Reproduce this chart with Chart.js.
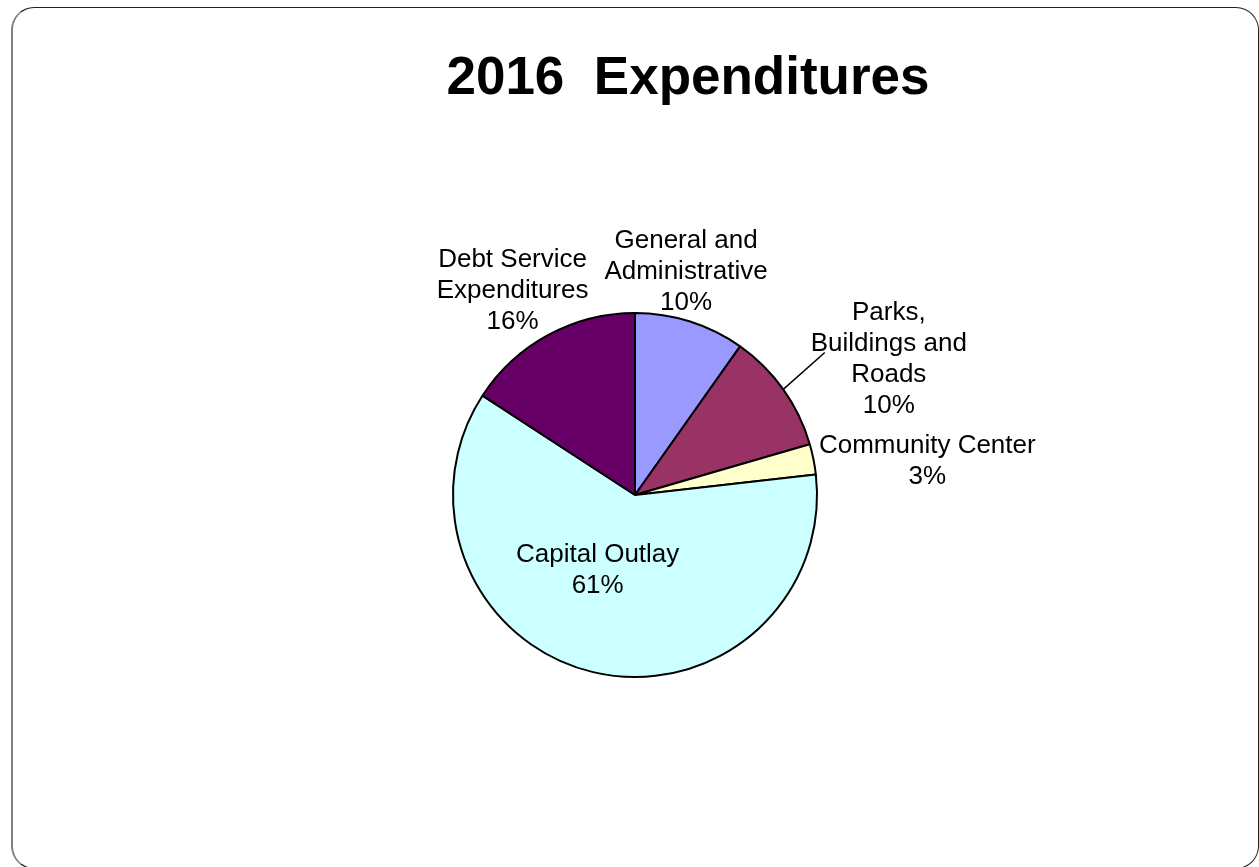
<!DOCTYPE html>
<html>
<head>
<meta charset="utf-8">
<title>2016 Expenditures</title>
<script src="https://cdn.jsdelivr.net/npm/chart.js@4/dist/chart.umd.min.js"></script>
<style>
  html, body { margin: 0; padding: 0; background: #fff; }
  #wrap { position: relative; width: 1259px; height: 867px; overflow: hidden; }
  #frame {
    position: absolute; left: 11px; top: 7px; width: 1245px; height: 860px;
    border: 1.5px solid #222; border-left: 2px solid #808080; border-radius: 23px;
  }
  #grafico-despesas { position: absolute; left: 0; top: 0; }
</style>
</head>
<body>
<div id="wrap">
  <div id="frame"></div>
  <canvas id="grafico-despesas" width="1259" height="867"></canvas>
</div>
<script>
const categorias = [
  ['General and', 'Administrative'],
  ['Parks,', 'Buildings and', 'Roads'],
  ['Community Center'],
  ['Capital Outlay'],
  ['Debt Service', 'Expenditures']
];
const valores = [9.8, 10.7, 2.7, 61.0, 15.8];
const percentuais = ['10%', '10%', '3%', '61%', '16%'];
const cores = ['#9999FF', '#993366', '#FFFFCC', '#CCFFFF', '#660066'];

// where each label sits: k * radius along the slice's middle angle, then nudged
const posRotulos = [
  { k: 1.27, dx: -19, dy: -3 },
  { k: 1.577, dx: 20, dy: 31, linha: { dx: -64, dy: -7 } },
  { k: 1.61, dx: 5, dy: 24 },
  { k: 0.437, dx: -19, dy: -2 },
  { k: 1.32, dx: -8, dy: 7 }
];

const rotulosPlugin = {
  id: 'rotulos',
  afterDatasetsDraw(chart) {
    const ctx = chart.ctx;
    const arcs = chart.getDatasetMeta(0).data;
    ctx.save();
    // title
    ctx.fillStyle = '#000';
    ctx.font = 'bold 53px "Liberation Sans", Arial, sans-serif';
    ctx.textAlign = 'center';
    ctx.textBaseline = 'alphabetic';
    ctx.fillText('2016  Expenditures', 688, 94);

    ctx.font = '26px "Liberation Sans", Arial, sans-serif';
    arcs.forEach(function(arc, i) {
      const p = arc.getProps(['x', 'y', 'startAngle', 'endAngle', 'outerRadius'], true);
      const mid = (p.startAngle + p.endAngle) / 2;
      const pos = posRotulos[i];
      const cx = p.x + Math.cos(mid) * p.outerRadius * pos.k + pos.dx;
      const cy = p.y + Math.sin(mid) * p.outerRadius * pos.k + pos.dy;
      const linhas = categorias[i].concat([percentuais[i]]);
      const lh = 31;
      const top = cy - (linhas.length - 1) * lh / 2;
      ctx.textBaseline = 'middle';
      linhas.forEach(function(t, j) {
        ctx.fillText(t, cx, top + j * lh);
      });
      if (pos.linha) {
        ctx.beginPath();
        ctx.strokeStyle = '#000';
        ctx.lineWidth = 1.5;
        ctx.moveTo(p.x + Math.cos(mid) * p.outerRadius, p.y + Math.sin(mid) * p.outerRadius);
        ctx.lineTo(cx + pos.linha.dx, cy + pos.linha.dy);
        ctx.stroke();
      }
    });
    ctx.restore();
  }
};

document.addEventListener('DOMContentLoaded', function() {
  const ctxDespesas = document.getElementById('grafico-despesas').getContext('2d');
  const despesasChart = new Chart(ctxDespesas, {
    type: 'pie',
    data: {
      labels: categorias.map(function(c) { return c.join(' '); }),
      datasets: [{
        data: valores,
        backgroundColor: cores,
        borderColor: '#000',
        borderWidth: 2
      }]
    },
    options: {
      responsive: false,
      animation: false,
      layout: { padding: { left: 452, right: 441, top: 312, bottom: 189 } },
      plugins: {
        legend: { display: false },
        tooltip: { enabled: false }
      }
    },
    plugins: [rotulosPlugin]
  });
});
</script>
</body>
</html>
